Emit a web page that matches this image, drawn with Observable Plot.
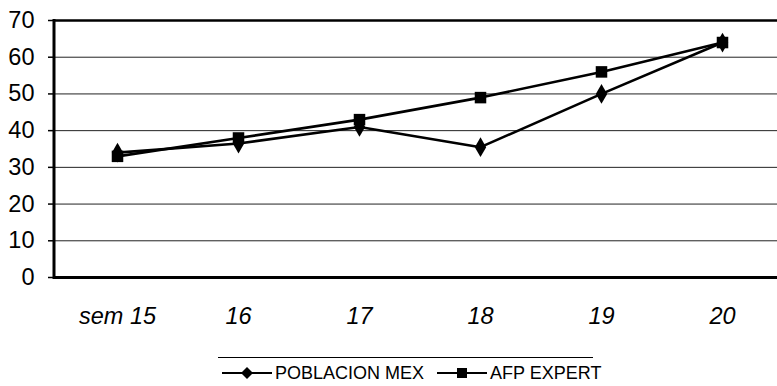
<!DOCTYPE html>
<html>
<head>
<meta charset="utf-8">
<script src="https://cdn.jsdelivr.net/npm/d3@7"></script>
<script src="https://cdn.jsdelivr.net/npm/@observablehq/plot@0.6"></script>
<style>
  html, body { margin: 0; padding: 0; background: #fff; }
  body { width: 777px; height: 386px; overflow: hidden; font-family: "Liberation Sans", Arial, sans-serif; }
  #legend { position: relative; width: 777px; height: 46px; }
  #legend .rule { position: absolute; left: 218px; width: 375px; top: 17px; border-top: 1px solid #000; }
  #legend .item { position: absolute; top: 23px; display: flex; align-items: center; font-size: 18px; line-height: 20px; color: #000; }
  #legend svg { display: block; margin-right: 3px; }
</style>
</head>
<body>
<div id="chart"></div>
<div id="legend"></div>
<script>
const weeks = ["sem 15", "16", "17", "18", "19", "20"];
const poblacionMex = [34, 36.5, 41, 35.5, 50, 64];
const afpExpert = [33, 38, 43, 49, 56, 64];
const yTicks = [0, 10, 20, 30, 40, 50, 60, 70];
const seriesNames = ["POBLACION MEX", "AFP EXPERT"];

const data = [
  ...weeks.map((w, i) => ({week: w, value: poblacionMex[i], series: seriesNames[0]})),
  ...weeks.map((w, i) => ({week: w, value: afpExpert[i], series: seriesNames[1]}))
];

const chart = Plot.plot({
  width: 777,
  height: 340,
  marginTop: 20,
  marginBottom: 63,
  marginLeft: 54,
  marginRight: 0,
  style: {fontFamily: "'Liberation Sans', Arial, sans-serif", color: "#000", background: "#fff"},
  x: {type: "point", domain: weeks, range: [116, 722], padding: 0, label: null},
  y: {domain: [0, 70], ticks: yTicks, label: null},
  marks: [
    Plot.ruleY(yTicks.filter(d => d > 0 && d < 70), {stroke: "#222", strokeWidth: 1}),
    Plot.ruleY([70], {stroke: "#000", strokeWidth: 2.5}),
    Plot.ruleY([0], {stroke: "#000", strokeWidth: 3}),
    Plot.axisY({ticks: yTicks, tickSize: 6, tickPadding: 14, fontSize: 23.5, tickFormat: d => d, strokeWidth: 1.5, label: null}),
    Plot.axisX({tickSize: 0, tickPadding: 30, fontSize: 23.5, fontStyle: "italic", label: null}),
    Plot.line(data, {x: "week", y: "value", z: "series", stroke: "#000", strokeWidth: 2.6}),
    Plot.dot(data.filter(d => d.series === seriesNames[0]), {x: "week", y: "value", symbol: "diamond", fill: "#000", stroke: "none", r: 6}),
    Plot.dot(data.filter(d => d.series === seriesNames[1]), {x: "week", y: "value", symbol: "square", fill: "#000", stroke: "none", r: 6.5})
  ]
});

// left frame line
const svg = d3.select(chart);
svg.append("line").attr("x1", 54).attr("x2", 54).attr("y1", 19).attr("y2", 279)
  .attr("stroke", "#000").attr("stroke-width", 3);

document.getElementById("chart").appendChild(chart);

// legend
const legend = document.getElementById("legend");
const rule = document.createElement("div");
rule.className = "rule";
legend.appendChild(rule);
const itemPos = [222, 437];
seriesNames.forEach((name, i) => {
  const item = document.createElement("div");
  item.className = "item";
  item.style.left = itemPos[i] + "px";
  const sw = d3.create("svg").attr("width", 50).attr("height", 14);
  sw.append("line").attr("x1", 0).attr("x2", 50).attr("y1", 7).attr("y2", 7).attr("stroke", "#000").attr("stroke-width", 2);
  if (i === 0) {
    sw.append("path").attr("d", "M25,1 L31,7 L25,13 L19,7 Z").attr("fill", "#000");
  } else {
    sw.append("rect").attr("x", 20).attr("y", 2).attr("width", 10).attr("height", 10).attr("fill", "#000");
  }
  item.appendChild(sw.node());
  const t = document.createElement("span");
  t.textContent = name;
  item.appendChild(t);
  legend.appendChild(item);
});
</script>
</body>
</html>
